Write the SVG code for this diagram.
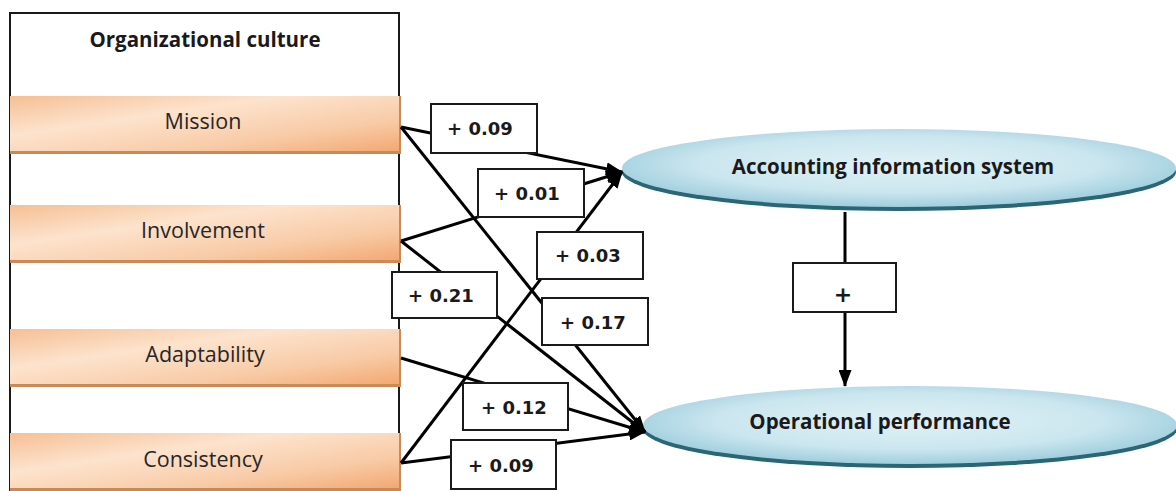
<svg xmlns="http://www.w3.org/2000/svg" width="1176" height="491" viewBox="0 0 1176 491">
  <style>
    .frame { fill: #ffffff; stroke: #1a1a1a; stroke-width: 2; }
    .bar { fill: url(#barFill); }
    .barEdge { fill: #c98a5a; }
    .barText { font-family: "Open Sans", "Liberation Sans", sans-serif; font-size: 21.5px; fill: #262626; text-anchor: middle; }
    .title { font-family: "Open Sans", "Liberation Sans", sans-serif; font-size: 20.5px; font-weight: bold; fill: #1a1a1a; text-anchor: middle; }
    .ovalShadow { fill: #2b6676; }
    .oval { fill: url(#ovalFill); }
    .ovalText { font-family: "Open Sans", "Liberation Sans", sans-serif; font-size: 20.5px; font-weight: bold; fill: #1a1a1a; text-anchor: middle; }
    .link { stroke: #000000; stroke-width: 3; fill: none; marker-end: url(#arrow); }
    .labelBox { fill: #ffffff; stroke: #1a1a1a; stroke-width: 2; }
    .labelText { font-family: "DejaVu Sans", "Liberation Sans", sans-serif; font-size: 18px; font-weight: bold; fill: #1a1a1a; text-anchor: middle; }
    .plus { font-family: "DejaVu Sans", "Liberation Sans", sans-serif; font-size: 22px; font-weight: bold; fill: #1a1a1a; text-anchor: middle; }
  </style>
  <defs>
    <linearGradient id="barFill" x1="0" y1="0" x2="1" y2="1">
      <stop offset="0" stop-color="#f6bf94"/>
      <stop offset="0.35" stop-color="#fde3cd"/>
      <stop offset="0.7" stop-color="#f8cba7"/>
      <stop offset="1" stop-color="#f2a66f"/>
    </linearGradient>
    <radialGradient id="ovalFill" cx="0.5" cy="0.45" r="0.6">
      <stop offset="0" stop-color="#e0f1f6"/>
      <stop offset="0.6" stop-color="#cbe6ef"/>
      <stop offset="1" stop-color="#93c8d9"/>
    </radialGradient>
    <marker id="arrow" viewBox="0 0 17 13" markerWidth="17" markerHeight="13" refX="16" refY="6.5" orient="auto" markerUnits="userSpaceOnUse">
      <path d="M0,0 L17,6.5 L0,13 z" fill="#000000"/>
    </marker>
  </defs>

  <!-- culture container with its four dimensions -->
  <g id="culture">
    <rect class="frame" x="10" y="13" width="389" height="490"/>
    <text class="title" x="205" y="47">Organizational culture</text>
  </g>
  <g id="mission">
    <rect class="bar" x="10" y="96" width="391" height="57"/>
    <rect class="barEdge" x="10" y="151" width="391" height="3"/>
    <rect class="barEdge" x="399" y="96" width="2" height="58"/>
    <text class="barText" x="203" y="129">Mission</text>
  </g>
  <g id="involvement">
    <rect class="bar" x="10" y="205" width="391" height="57"/>
    <rect class="barEdge" x="10" y="260" width="391" height="3"/>
    <rect class="barEdge" x="399" y="205" width="2" height="58"/>
    <text class="barText" x="203" y="238">Involvement</text>
  </g>
  <g id="adaptability">
    <rect class="bar" x="10" y="329" width="391" height="57"/>
    <rect class="barEdge" x="10" y="384" width="391" height="3"/>
    <rect class="barEdge" x="399" y="329" width="2" height="58"/>
    <text class="barText" x="205" y="362">Adaptability</text>
  </g>
  <g id="consistency">
    <rect class="bar" x="10" y="433" width="391" height="57"/>
    <rect class="barEdge" x="10" y="488" width="391" height="3"/>
    <rect class="barEdge" x="399" y="433" width="2" height="58"/>
    <text class="barText" x="203" y="467">Consistency</text>
  </g>

  <!-- outcome ovals -->
  <g id="ais">
    <ellipse class="ovalShadow" cx="899" cy="172" rx="277" ry="39"/>
    <ellipse class="oval" cx="899" cy="168" rx="277" ry="39"/>
    <text class="ovalText" x="893" y="174">Accounting information system</text>
  </g>
  <g id="performance">
    <ellipse class="ovalShadow" cx="910" cy="429" rx="267" ry="39"/>
    <ellipse class="oval" cx="910" cy="425" rx="267" ry="39"/>
    <text class="ovalText" x="880" y="429">Operational performance</text>
  </g>

  <!-- paths with coefficient labels -->
  <g id="connectors">
    <line class="link" x1="401" y1="127" x2="622" y2="172"/>
    <line class="link" x1="401" y1="127" x2="645" y2="432"/>
    <line class="link" x1="401" y1="241" x2="622" y2="172"/>
    <line class="link" x1="401" y1="241" x2="645" y2="432"/>
    <line class="link" x1="401" y1="358" x2="645" y2="432"/>
    <line class="link" x1="401" y1="463" x2="622" y2="172"/>
    <line class="link" x1="401" y1="463" x2="645" y2="432"/>
    <line class="link" x1="845" y1="212" x2="845" y2="386"/>

    <rect class="labelBox" x="431" y="104" width="106" height="49"/>
    <text class="labelText" x="480" y="135">+ 0.09</text>
    <rect class="labelBox" x="478" y="169" width="106" height="48"/>
    <text class="labelText" x="527" y="200">+ 0.01</text>
    <rect class="labelBox" x="537" y="232" width="106" height="47"/>
    <text class="labelText" x="588" y="262">+ 0.03</text>
    <rect class="labelBox" x="392" y="272" width="105" height="46"/>
    <text class="labelText" x="441" y="302">+ 0.21</text>
    <rect class="labelBox" x="542" y="298" width="106" height="47"/>
    <text class="labelText" x="593" y="329">+ 0.17</text>
    <rect class="labelBox" x="463" y="383" width="105" height="47"/>
    <text class="labelText" x="514" y="414">+ 0.12</text>
    <rect class="labelBox" x="451" y="440" width="105" height="49"/>
    <text class="labelText" x="501" y="472">+ 0.09</text>
    <rect class="labelBox" x="793" y="263" width="103" height="49"/>
    <text class="plus" x="843" y="302">+</text>
  </g>
</svg>
